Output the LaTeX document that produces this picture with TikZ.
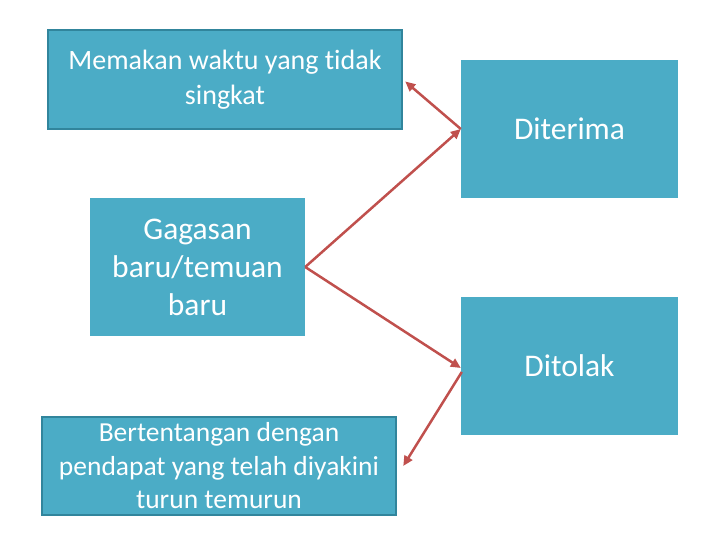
\documentclass[tikz,border=0pt]{standalone}
\usepackage{fontspec}
\setmainfont{Carlito}[Ligatures={NoCommon}]
\usetikzlibrary{arrows.meta}
\definecolor{boxfill}{HTML}{4BACC6}
\definecolor{boxline}{HTML}{31859C}
\definecolor{arrowred}{HTML}{C0504D}
\begin{document}
\begin{tikzpicture}[x=1pt,y=1pt,
  box/.style={fill=boxfill,text=white,align=center,inner sep=0pt},
  framed/.style={box,draw=boxline,line width=2.5pt},
  link/.style={draw=arrowred,line width=2.5pt,-{Triangle[length=10pt,width=9pt]}}]
\useasboundingbox (0,0) rectangle (720,540);
\node[framed,minimum width=354pt,minimum height=99pt,font=\fontsize{28}{35}\selectfont] (A) at (225,460.5) {Memakan waktu yang tidak\\singkat};
\node[box,minimum width=217pt,minimum height=138pt,font=\fontsize{31.5}{38}\selectfont] (B) at (569.5,411) {Diterima};
\node[box,minimum width=215pt,minimum height=138pt,font=\fontsize{31.5}{38}\selectfont] (C) at (197.5,273) {Gagasan\\baru/temuan\\baru};
\node[box,minimum width=217pt,minimum height=138pt,font=\fontsize{31.5}{38}\selectfont] (D) at (569.5,174) {Ditolak};
\node[framed,minimum width=354pt,minimum height=98pt,font=\fontsize{27.5}{33.5}\selectfont] (E) at (219,74) {Bertentangan dengan\\pendapat yang telah diyakini\\turun temurun};
\draw[link] (B.west) -- ([xshift=2pt,yshift=-2pt]A.east);
\draw[link] (C.east) -- (B.west);
\draw[link] (C.east) -- ([yshift=-2pt]D.west);
\draw[link] ([xshift=1pt,yshift=-6pt]D.west) -- ([xshift=6pt]E.east);
\end{tikzpicture}
\end{document}
